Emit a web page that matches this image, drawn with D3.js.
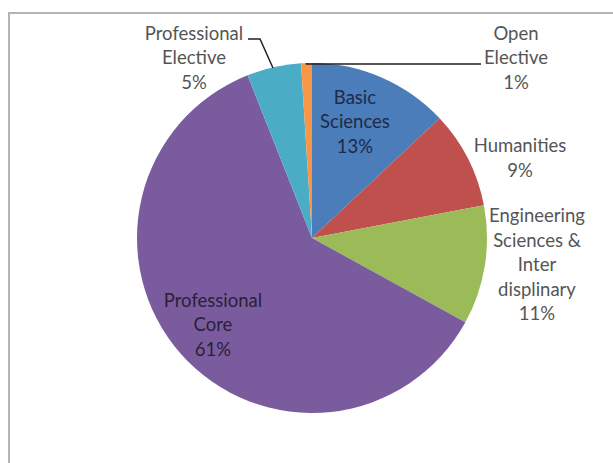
<!DOCTYPE html>
<html>
<head>
<meta charset="utf-8">
<script src="https://cdn.jsdelivr.net/npm/d3@7"></script>
<style>
  body { margin: 0; background: #fff; }
  svg { display: block; font-family: Lato, "Open Sans", sans-serif; }
</style>
</head>
<body>
<svg width="613" height="463"></svg>
<script>
const categories = ["Basic Sciences", "Humanities", "Engineering Sciences & Inter displinary", "Professional Core", "Professional Elective", "Open Elective"];
const values = [13, 9, 11, 61, 5, 1];
const colors = ["#4a7dba", "#c0504d", "#9bbb59", "#7a5c9e", "#4bacc6", "#f79646"];
const labelLines = [
    ["Basic", "Sciences", "13%"],
    ["Humanities", "9%"],
    ["Engineering", "Sciences &", "Inter", "displinary", "11%"],
    ["Professional", "Core", "61%"],
    ["Professional", "Elective", "5%"],
    ["Open", "Elective", "1%"]
];

const svg = d3.select("svg");
const cx = 312, cy = 238, radius = 175;
const lineH = 24.5;

// chart frame
svg.append("path")
    .attr("d", "M 9 463 L 9 13 L 613 13")
    .attr("fill", "none")
    .attr("stroke", "#b4b4b4")
    .attr("stroke-width", 2);

const pie = d3.pie().sort(null).value(d => d);
const arcs = pie(values);
const arc = d3.arc().innerRadius(0).outerRadius(radius);

const g = svg.append("g").attr("transform", `translate(${cx},${cy})`);

g.selectAll("path.slice")
    .data(arcs)
    .enter()
    .append("path")
    .attr("class", "slice")
    .attr("d", arc)
    .attr("fill", (d, i) => colors[i]);

// label positions (centre of the text block, page coordinates)
const labelPos = [
    {x: 355, y: 122, fill: "#1f2a48"},
    {x: 520, y: 158, fill: "#555"},
    {x: 537, y: 265, fill: "#555"},
    {x: 213, y: 325, fill: "#2a2038"},
    {x: 194, y: 58, fill: "#555"},
    {x: 516, y: 58, fill: "#555"}
];

labelLines.forEach(function(lines, i) {
    let p = labelPos[i];
    let t = svg.append("text")
        .attr("text-anchor", "middle")
        .attr("font-size", "18.5px")
        .attr("fill", p.fill);
    let top = p.y - (lines.length - 1) * lineH / 2;
    lines.forEach(function(s, j) {
        t.append("tspan")
            .attr("x", p.x)
            .attr("y", top + j * lineH)
            .attr("dy", "0.35em")
            .text(s);
    });
});

// leader lines
svg.append("path")
    .attr("d", "M 248 39 L 260 39 L 273 68")
    .attr("fill", "none")
    .attr("stroke", "#222")
    .attr("stroke-width", 1.5);

const oe = arcs[5];
const oeAngle = (oe.startAngle + oe.endAngle) / 2;
const oeX = cx + Math.sin(oeAngle) * radius;
const oeY = cy - Math.cos(oeAngle) * radius;
svg.append("path")
    .attr("d", `M ${oeX} ${oeY} L ${oeX} 64 L 481 64`)
    .attr("fill", "none")
    .attr("stroke", "#222")
    .attr("stroke-width", 1.5);
</script>
</body>
</html>
